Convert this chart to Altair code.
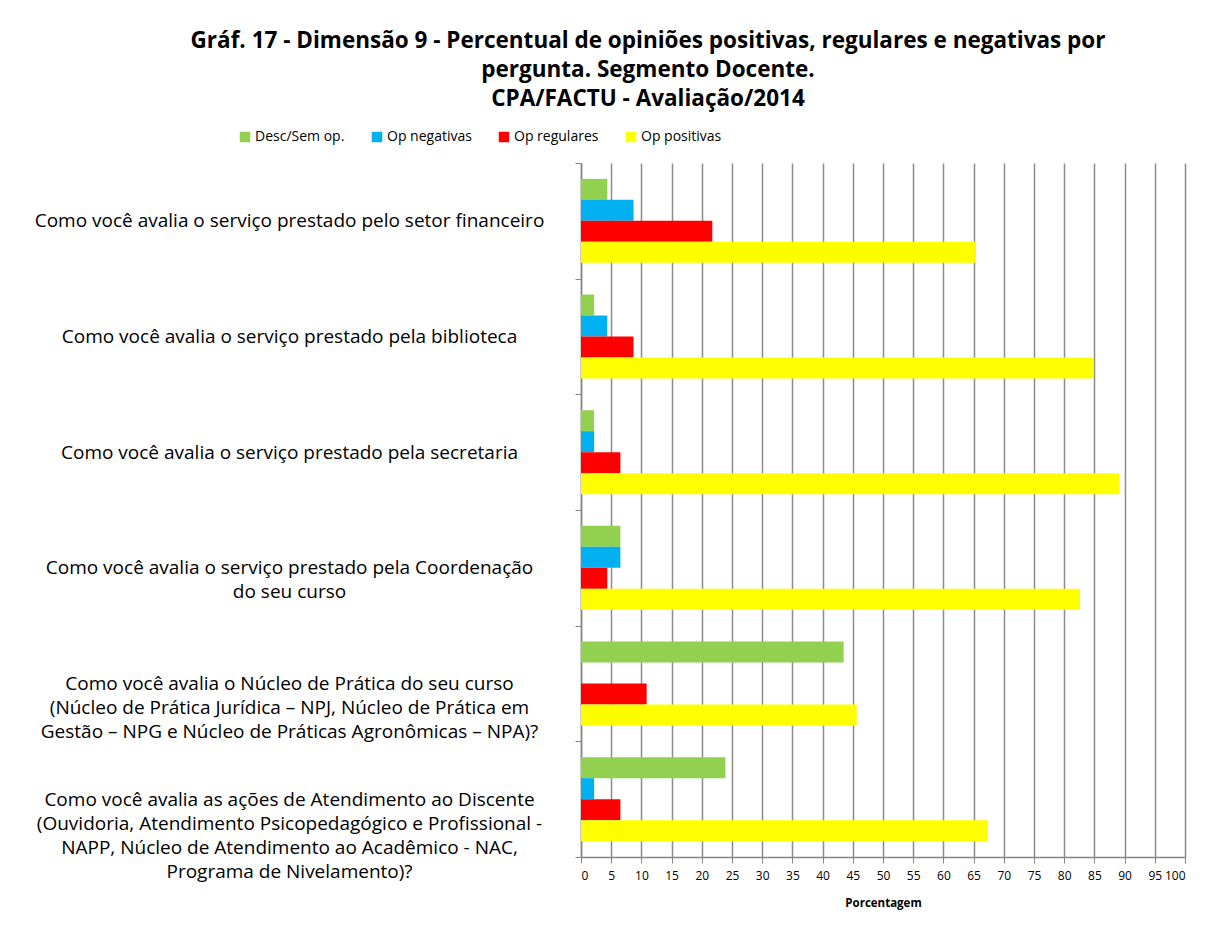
import altair as alt
import pandas as pd

categories = [
    "Como você avalia o serviço prestado pelo setor financeiro",
    "Como você avalia o serviço prestado pela biblioteca",
    "Como você avalia o serviço prestado pela secretaria",
    "Como você avalia o serviço prestado pela Coordenação|do seu curso",
    "Como você avalia o Núcleo de Prática do seu curso|(Núcleo de Prática Jurídica – NPJ, Núcleo de Prática em|Gestão – NPG e Núcleo de Práticas Agronômicas – NPA)?",
    "Como você avalia as ações de Atendimento ao Discente|(Ouvidoria, Atendimento Psicopedagógico e Profissional -|NAPP, Núcleo de Atendimento ao Acadêmico - NAC,|Programa de Nivelamento)?",
]
series = ["Desc/Sem op.", "Op negativas", "Op regulares", "Op positivas"]
colors = ["#92D050", "#00B0F0", "#FF0000", "#FFFF00"]

desc_sem_op = [4.35, 2.17, 2.17, 6.52, 43.48, 23.91]
op_negativas = [8.70, 4.35, 2.17, 6.52, 0.0, 2.17]
op_regulares = [21.74, 8.70, 6.52, 4.35, 10.87, 6.52]
op_positivas = [65.22, 84.78, 89.13, 82.61, 45.65, 67.39]

x_ticks = list(range(0, 101, 5))

rows = []
for s, vals in zip(series, [desc_sem_op, op_negativas, op_regulares, op_positivas]):
    for c, v in zip(categories, vals):
        rows.append({"q": c, "s": s, "v": v})
df = pd.DataFrame(rows)

FONT = "Open Sans"

chart = alt.Chart(df).mark_bar().encode(
    y=alt.Y(
        "q:N",
        sort=categories,
        title=None,
        scale=alt.Scale(paddingInner=0, paddingOuter=0),
        axis=alt.Axis(
            labelExpr="datum.value ? split(datum.value, '|') : ''",
            labelAlign="center",
            labelBaseline="middle",
            labelPadding=286,
            labelFontSize=19,
            labelLineHeight=24,
            labelColor="#000000",
            labelFont=FONT,
            labelLimit=1000,
            tickBand="extent",
            tickSize=6,
            tickColor="#868686",
            domainColor="#868686",
            domainWidth=1.5,
            grid=False,
        ),
    ),
    x=alt.X(
        "v:Q",
        title="Porcentagem",
        scale=alt.Scale(domain=[0, 100], nice=False),
        axis=alt.Axis(
            values=x_ticks,
            labelFontSize=12,
            labelFont=FONT,
            labelColor="#000000",
            labelPadding=7,
            titleFont=FONT,
            titleFontSize=11.5,
            titleFontWeight="bold",
            titleColor="#000000",
            titlePadding=16,
            tickSize=6,
            tickColor="#868686",
            domainColor="#868686",
            domainWidth=1.5,
            grid=True,
            gridColor="#8c8c8c",
            gridWidth=1.5,
        ),
    ),
    yOffset=alt.YOffset(
        "s:N", sort=series, scale=alt.Scale(paddingInner=0, paddingOuter=0.755)
    ),
    color=alt.Color(
        "s:N",
        sort=series,
        scale=alt.Scale(domain=series, range=colors),
        legend=alt.Legend(
            title=None,
            orient="none",
            legendX=-343,
            legendY=-33,
            direction="horizontal",
            columns=4,
            gridAlign="none",
            columnPadding=25,
            symbolType="square",
            symbolSize=110,
            symbolStrokeWidth=0,
            labelFontSize=14,
            labelFont=FONT,
            labelColor="#000000",
            labelOffset=3,
        ),
    ),
).properties(
    width=604,
    height=694,
    title=alt.Title(
        text=[
            "Gráf. 17 - Dimensão 9 - Percentual de opiniões positivas, regulares e negativas por",
            "pergunta. Segmento Docente.",
            "CPA/FACTU - Avaliação/2014",
        ],
        font=FONT,
        fontSize=22.5,
        fontWeight="bold",
        color="#000000",
        anchor="middle",
        frame="group",
        dx=-235,
        lineHeight=29,
        offset=20,
    ),
    autosize=alt.AutoSizeParams(type="none"),
    padding={"left": 573, "top": 155, "right": 19, "bottom": 65},
).configure_view(stroke=None)

chart.save("out.html", embed_options={"renderer": "svg", "actions": False})
